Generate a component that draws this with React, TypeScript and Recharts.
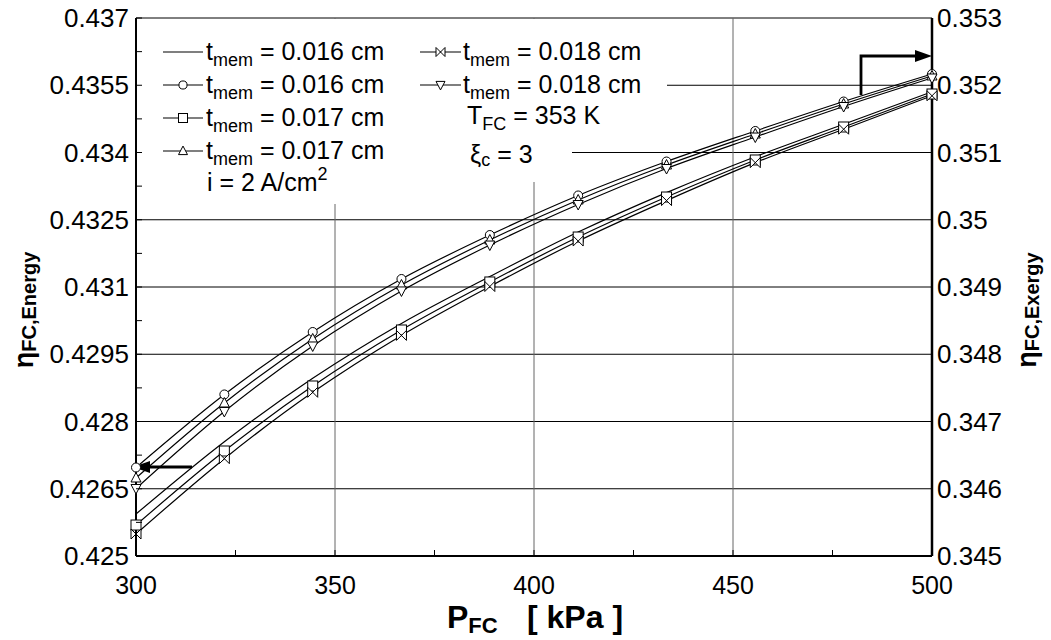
import React from "react";
import {
  ComposedChart,
  Line,
  XAxis,
  YAxis,
  CartesianGrid,
} from "recharts";

const FONT = "'Liberation Sans', Arial, Helvetica, sans-serif";

// fuel cell pressure, kPa
const pressure = [300, 322.2, 344.4, 366.7, 388.9, 411.1, 433.3, 455.6, 477.8, 500];

// energy efficiency (left axis)
const energy016 = [0.425937, 0.42755, 0.428964, 0.430188, 0.431234, 0.432226, 0.433106, 0.433906, 0.43463, 0.435354];
const energy017 = [0.425691, 0.427342, 0.428792, 0.430041, 0.431112, 0.432115, 0.433007, 0.433833, 0.434569, 0.435305];
const energy018 = [0.425491, 0.427171, 0.428651, 0.42992, 0.431011, 0.432025, 0.432927, 0.433773, 0.434519, 0.435265];

// exergy efficiency (right axis)
const exergy016 = [0.346316, 0.347402, 0.348331, 0.349119, 0.349773, 0.350361, 0.350866, 0.35132, 0.351758, 0.352167];
const exergy017 = [0.34616, 0.347275, 0.348227, 0.34903, 0.349699, 0.350294, 0.350814, 0.351275, 0.351721, 0.352138];
const exergy018 = [0.346004, 0.347149, 0.348123, 0.348941, 0.349624, 0.350227, 0.350762, 0.35123, 0.351684, 0.352108];

const xTicks = [300, 325, 350, 375, 400, 425, 450, 475, 500];
const xLabels = [300, 350, 400, 450, 500];
const leftMajor = [0.425, 0.4265, 0.428, 0.4295, 0.431, 0.4325, 0.434, 0.4355, 0.437];
const leftMinor = [0.42575, 0.42725, 0.42875, 0.43025, 0.43175, 0.43325, 0.43475, 0.43625];
const rightMajor = [0.345, 0.346, 0.347, 0.348, 0.349, 0.35, 0.351, 0.352, 0.353];

const data = pressure.map((p, i) => ({
  p,
  e16: energy016[i],
  e17: energy017[i],
  e18: energy018[i],
  x16: exergy016[i],
  x17: exergy017[i],
  x18: exergy018[i],
}));

type Mk = "circle" | "square" | "up" | "down" | "bowtie";

function marker(kind: Mk, cx: number, cy: number, s = 5, key?: any) {
  const st = { fill: "#fff", stroke: "#000", strokeWidth: 1 };
  if (kind === "circle") return <circle key={key} cx={cx} cy={cy} r={s * 0.9} {...st} />;
  if (kind === "square")
    return <rect key={key} x={cx - s} y={cy - s} width={s * 2} height={s * 2} {...st} />;
  if (kind === "up")
    return (
      <polygon key={key} points={`${cx},${cy - s * 1.1} ${cx - s},${cy + s * 0.8} ${cx + s},${cy + s * 0.8}`} {...st} />
    );
  if (kind === "down")
    return (
      <polygon key={key} points={`${cx},${cy + s * 1.1} ${cx - s},${cy - s * 0.8} ${cx + s},${cy - s * 0.8}`} {...st} />
    );
  return (
    <path key={key} d={`M${cx - s},${cy - s} L${cx + s},${cy + s} L${cx + s},${cy - s} L${cx - s},${cy + s} Z`} {...st} />
  );
}

const dotOf = (kind: Mk) => (props: any) =>
  marker(kind, props.cx, props.cy, 5, `${kind}-${props.index}`);

const isIn = (v: number, arr: number[]) => arr.some((a) => Math.abs(a - v) < 1e-7);

function BottomTick({ x, y, payload }: any) {
  return (
    <g>
      <line x1={x} x2={x} y1={y} y2={y - 6} stroke="#000" />
      {isIn(payload.value, xLabels) && (
        <text x={x} y={y + 38} textAnchor="middle" fontSize={25} fontFamily={FONT} fill="#000">
          {payload.value}
        </text>
      )}
    </g>
  );
}

function TopTick({ x, y }: any) {
  return <line x1={x} x2={x} y1={y} y2={y + 6} stroke="#000" />;
}

function LeftTick({ x, y, payload }: any) {
  return (
    <g>
      <line x1={x} x2={x + 6} y1={y} y2={y} stroke="#000" />
      {isIn(payload.value, leftMajor) && (
        <text x={x - 7} y={y + 9} textAnchor="end" fontSize={26} fontFamily={FONT} fill="#000">
          {String(+payload.value.toFixed(4))}
        </text>
      )}
    </g>
  );
}

function RightTick({ x, y, payload }: any) {
  return (
    <text x={x + 5} y={y + 9} textAnchor="start" fontSize={26} fontFamily={FONT} fill="#000">
      {String(+payload.value.toFixed(4))}
    </text>
  );
}

function Tmem({ x, y, v }: { x: number; y: number; v: string }) {
  return (
    <text x={x} y={y} fontSize={25} fontFamily={FONT} fill="#000">
      t<tspan fontSize={18} dy={6}>mem</tspan>
      <tspan dy={-6}>{` = ${v} cm`}</tspan>
    </text>
  );
}

function LegendSym({ x1, x2, y, kind }: { x1: number; x2: number; y: number; kind?: Mk }) {
  return (
    <g>
      <line x1={x1} x2={x2} y1={y} y2={y} stroke="#000" strokeWidth={1.2} />
      {kind && marker(kind, (x1 + x2) / 2, y, 4.5)}
    </g>
  );
}

function Notes() {
  return (
    <g>
      {/* legend backgrounds */}
      <rect x={137} y={19} width={530} height={82} fill="#fff" />
      <rect x={137} y={100} width={435} height={82} fill="#fff" />
      <rect x={137} y={180} width={265} height={24} fill="#fff" />

      <LegendSym x1={163} x2={203} y={52} />
      <Tmem x={206} y={60} v="0.016" />
      <LegendSym x1={163} x2={203} y={85} kind="circle" />
      <Tmem x={206} y={93} v="0.016" />
      <LegendSym x1={163} x2={203} y={118} kind="square" />
      <Tmem x={206} y={126} v="0.017" />
      <LegendSym x1={163} x2={203} y={151} kind="up" />
      <Tmem x={206} y={159} v="0.017" />
      <text x={207} y={191} fontSize={25} fontFamily={FONT} fill="#000">
        i = 2 A/cm<tspan fontSize={18} dy={-11}>2</tspan>
      </text>

      <LegendSym x1={420} x2={461} y={52} kind="bowtie" />
      <Tmem x={463} y={60} v="0.018" />
      <LegendSym x1={420} x2={461} y={85} kind="down" />
      <Tmem x={463} y={93} v="0.018" />
      <text x={467} y={124} fontSize={25} fontFamily={FONT} fill="#000">
        T<tspan fontSize={18} dy={6}>FC</tspan>
        <tspan dy={-6}> = 353 K</tspan>
      </text>
      <text x={470} y={163} fontSize={25} fontFamily={FONT} fill="#000">
        ξ<tspan fontSize={18} dy={3}>c</tspan>
        <tspan dy={-3}> = 3</tspan>
      </text>

      {/* arrows pointing to the axes */}
      <line x1={192} x2={148} y1={467} y2={467} stroke="#000" strokeWidth={2.8} />
      <polygon points="133,467 150,461 150,473" fill="#000" />
      <polyline points="861,95 861,56 916,56" fill="none" stroke="#000" strokeWidth={2.8} />
      <polygon points="932,56 915,50 915,62" fill="#000" />

      {/* axis titles */}
      <text
        transform="translate(33,310) rotate(-90)"
        textAnchor="middle"
        fontFamily={FONT}
        fontWeight="bold"
        fill="#000"
      >
        <tspan fontSize={27}>η</tspan>
        <tspan fontSize={20} dy={3}>FC,Energy</tspan>
      </text>
      <text
        transform="translate(1036,310) rotate(-90)"
        textAnchor="middle"
        fontFamily={FONT}
        fontWeight="bold"
        fill="#000"
      >
        <tspan fontSize={27}>η</tspan>
        <tspan fontSize={20} dy={3}>FC,Exergy</tspan>
      </text>
      <text x={447} y={628} fontFamily={FONT} fontWeight="bold" fontSize={32} fill="#000">
        P<tspan fontSize={22} dy={5}>FC</tspan>
      </text>
      <text x={527} y={628} fontFamily={FONT} fontWeight="bold" fontSize={32} fill="#000">
        [ kPa ]
      </text>
    </g>
  );
}

export default function App() {
  const line = { type: "monotone" as const, stroke: "#000", strokeWidth: 1.2, isAnimationActive: false, xAxisId: "bottom" };
  return (
    <div style={{ position: "absolute", left: 0, top: 0, width: 1051, height: 640, background: "#fff" }}>
      <ComposedChart width={1051} height={640} data={data} margin={{ top: 18, right: 0, bottom: 0, left: 0 }}>
        <CartesianGrid
          xAxisId="bottom"
          yAxisId="left"
          vertical={false}
          horizontalValues={leftMajor}
          stroke="#000"
          strokeWidth={1}
        />
        <CartesianGrid
          xAxisId="bottom"
          yAxisId="left"
          horizontal={false}
          verticalValues={xLabels}
          stroke="#666"
          strokeWidth={1}
        />
        <XAxis
          xAxisId="bottom"
          dataKey="p"
          type="number"
          domain={[300, 500]}
          ticks={xTicks}
          height={84}
          tickSize={0}
          tickMargin={0}
          tickLine={false}
          axisLine={{ stroke: "#000", strokeWidth: 2 }}
          tick={<BottomTick />}
          interval={0}
        />
        <XAxis
          xAxisId="top"
          orientation="top"
          type="number"
          domain={[300, 500]}
          ticks={xTicks}
          height={0}
          tickSize={0}
          tickMargin={0}
          tickLine={false}
          axisLine={{ stroke: "#000", strokeWidth: 2 }}
          tick={<TopTick />}
          interval={0}
        />
        <YAxis
          yAxisId="left"
          type="number"
          domain={[0.425, 0.437]}
          ticks={[...leftMajor, ...leftMinor].sort((a, b) => a - b)}
          width={136}
          tickSize={0}
          tickMargin={0}
          tickLine={false}
          axisLine={{ stroke: "#000", strokeWidth: 2 }}
          tick={<LeftTick />}
          interval={0}
        />
        <YAxis
          yAxisId="right"
          orientation="right"
          type="number"
          domain={[0.345, 0.353]}
          ticks={rightMajor}
          width={119}
          tickSize={0}
          tickMargin={0}
          tickLine={false}
          axisLine={{ stroke: "#000", strokeWidth: 2.5 }}
          tick={<RightTick />}
          interval={0}
        />
        <Notes />
        <Line {...line} yAxisId="left" dataKey="e16" dot={false} />
        <Line {...line} yAxisId="left" dataKey="e17" dot={dotOf("square")} />
        <Line {...line} yAxisId="left" dataKey="e18" dot={dotOf("bowtie")} />
        <Line {...line} yAxisId="right" dataKey="x16" dot={dotOf("circle")} />
        <Line {...line} yAxisId="right" dataKey="x17" dot={dotOf("up")} />
        <Line {...line} yAxisId="right" dataKey="x18" dot={dotOf("down")} />
      </ComposedChart>
    </div>
  );
}
